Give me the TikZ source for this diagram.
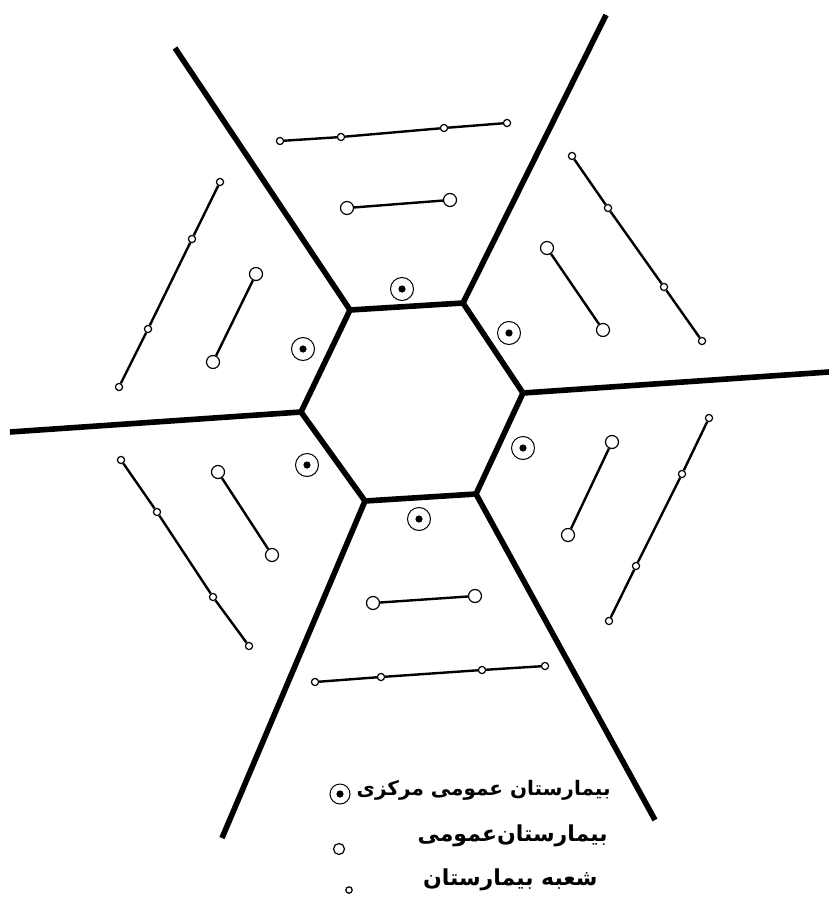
\documentclass[tikz,border=0pt]{standalone}
\usepackage{fontspec}
\newfontfamily\fafont[Script=Arabic]{DejaVu Sans}
\TeXXeTstate=1
\begin{document}
\begin{tikzpicture}[x=0.5pt,y=-0.5pt,
  spoke/.style={line width=2.8pt, line join=miter},
  conn/.style={line width=1.2pt},
  bigc/.style={circle, draw, fill=white, line width=0.6pt, minimum size=6.5pt, inner sep=0pt},
  smallc/.style={circle, draw, fill=white, line width=0.6pt, minimum size=3.6pt, inner sep=0pt},
  centc/.style={circle, draw, line width=0.5pt, minimum size=11.5pt, inner sep=0pt,
    path picture={\fill (path picture bounding box.center) circle (1.8pt);}},
  legtext/.style={anchor=east, inner sep=0pt, font=\fafont\bfseries\fontsize{11}{13}\selectfont}
]
\useasboundingbox (0,0) rectangle (829,904);
% hexagon corners
\coordinate (h1) at (350,310);
\coordinate (h2) at (463,303);
\coordinate (h3) at (523,393);
\coordinate (h4) at (476,494);
\coordinate (h5) at (365,501);
\coordinate (h6) at (301,412);
% spoke ends
\coordinate (e1) at (175,48);
\coordinate (e2) at (606,15);
\coordinate (e3) at (829,372);
\coordinate (e4) at (655,820);
\coordinate (e5) at (222,838);
\coordinate (e6) at (10,432);
\draw[spoke] (h1)--(h2)--(h3)--(h4)--(h5)--(h6)--cycle;
\draw[spoke] (h1)--(e1);
\draw[spoke] (h2)--(e2);
\draw[spoke] (h3)--(e3);
\draw[spoke] (h4)--(e4);
\draw[spoke] (h5)--(e5);
\draw[spoke] (h6)--(e6);
% central hospitals
\node[centc] (c1) at (402,289) {};
\node[centc] (c2) at (509,333) {};
\node[centc] (c3) at (523,448) {};
\node[centc] (c4) at (419,519) {};
\node[centc] (c5) at (307,465) {};
\node[centc] (c6) at (303,349) {};
% branch hospitals (small)
\foreach \n/\x/\y in {ta/280/141, tb/341/137, tc/444/128, td/507/123,
  ua/220/182, ub/192/239, uc/148/329, ud/119/387,
  ra/572/156, rb/608/208, rc/664/287, rd/702/341,
  la/121/460, lb/157/512, lc/213/597, ld/249/646,
  wa/709/418, wb/682/474, wc/636/566, wd/609/621,
  ba/315/682, bb/381/677, bc/482/670, bd/545/666}
  \node[smallc] (\n) at (\x,\y) {};
% general hospitals (big)
\foreach \n/\x/\y in {tsa/347/208, tsb/450/200,
  usa/256/274, usb/213/362,
  rsa/547/248, rsb/603/330,
  lsa/218/472, lsb/272/555,
  wsa/612/442, wsb/568/535,
  bsa/373/603, bsb/475/596}
  \node[bigc] (\n) at (\x,\y) {};
% connectors
\draw[conn] (ta)--(tb)--(tc)--(td);
\draw[conn] (ua)--(ub)--(uc)--(ud);
\draw[conn] (ra)--(rb)--(rc)--(rd);
\draw[conn] (la)--(lb)--(lc)--(ld);
\draw[conn] (wa)--(wb)--(wc)--(wd);
\draw[conn] (ba)--(bb)--(bc)--(bd);
\draw[conn] (tsa)--(tsb);
\draw[conn] (usa)--(usb);
\draw[conn] (rsa)--(rsb);
\draw[conn] (lsa)--(lsb);
\draw[conn] (wsa)--(wsb);
\draw[conn] (bsa)--(bsb);
% legend
\node[centc, minimum size=10pt] (k1) at (340,794) {};
\node[bigc, minimum size=5.5pt] (k2) at (339,849) {};
\node[smallc, minimum size=3.2pt] (k3) at (349,890) {};
\node[legtext, font=\fafont\bfseries\fontsize{10}{12}\selectfont] (l1) at (611,790) {\beginR بیمارستان عمومی مرکزی\endR};
\node[legtext] (l2) at (608,836) {\beginR بیمارستان‌عمومی\endR};
\node[legtext] (l3) at (598,880) {\beginR شعبه بیمارستان\endR};
\end{tikzpicture}
\end{document}
